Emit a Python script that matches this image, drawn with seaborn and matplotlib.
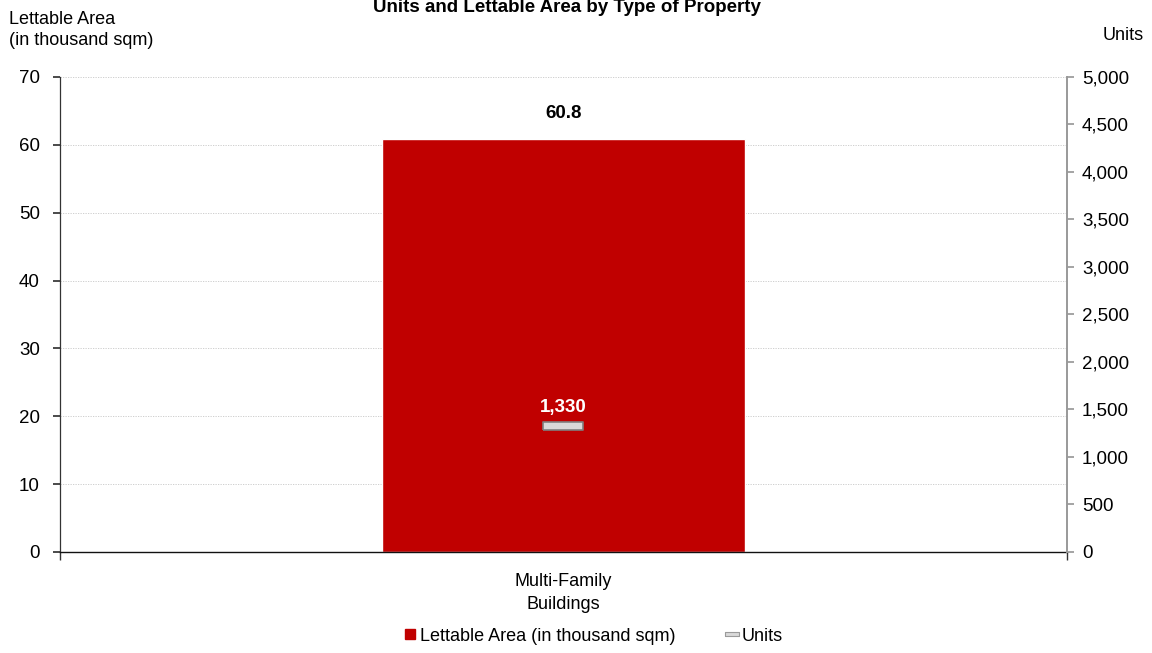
import matplotlib
matplotlib.use("Agg")
import matplotlib.pyplot as plt
from matplotlib.lines import Line2D
import seaborn as sns
import pandas as pd

categories = ["Multi-Family\nBuildings"]
lettable_area = [60.8]
units = [1330]
area_ticks = [0, 10, 20, 30, 40, 50, 60, 70]
unit_ticks = [0, 500, 1000, 1500, 2000, 2500, 3000, 3500, 4000, 4500, 5000]

sns.set_theme(style="white")
plt.rcParams["font.family"] = ["Liberation Sans", "DejaVu Sans"]
plt.rcParams["text.color"] = "black"
plt.rcParams["xtick.color"] = "black"
plt.rcParams["ytick.color"] = "black"

BAR_RED = "#C00000"
FS = 13.5
FS_TXT = 13
df = pd.DataFrame({"category": categories, "area": lettable_area, "units": units})

fig = plt.figure(figsize=(11.52, 6.53), dpi=100)
ax = fig.add_axes([0.052, 0.1547, 0.874, 0.7274])

sns.barplot(data=df, x="category", y="area", color=BAR_RED, saturation=1,
            width=0.36, ax=ax, zorder=2)
ax.set_xlim(-0.5, 0.5)
ax.set_ylim(0, 70)
ax.set_yticks(area_ticks)
ax.yaxis.grid(True, color="#c8c8c8", linestyle=(0, (1.5, 1.5)), linewidth=0.6, zorder=0)
ax.set_axisbelow(True)
ax.set_xlabel("")
ax.set_ylabel("")
ax.tick_params(axis="y", labelsize=FS, length=5, direction="out", left=True,
               color="#333333", pad=9.4, labelcolor="black")
ax.tick_params(axis="x", labelsize=FS_TXT, length=0, pad=15, labelcolor="black")
for lbl in ax.get_xticklabels():
    lbl.set_linespacing(1.5)
ax.set_xticks([-0.5, 0.5], minor=True)
ax.tick_params(axis="x", which="minor", length=6, direction="out", bottom=True,
               color="#333333")
for side in ["top", "right"]:
    ax.spines[side].set_visible(False)
ax.spines["left"].set_color("#333333")
ax.spines["bottom"].set_color("#111111")
ax.spines["left"].set_linewidth(0.9)
ax.spines["bottom"].set_linewidth(1.0)

for xi, v in enumerate(lettable_area):
    ax.text(xi, v + 2.6, f"{v:.1f}", ha="center", va="bottom",
            fontsize=FS, fontweight="bold", color="black")

ax2 = ax.twinx()
ax2.set_ylim(0, 5000)
ax2.set_yticks(unit_ticks)
ax2.set_yticklabels([f"{t:,}" for t in unit_ticks])
ax2.tick_params(axis="y", labelsize=FS, length=5, direction="out", right=True,
                color="#999999", pad=6, labelcolor="black")
for side in ["top", "left", "bottom"]:
    ax2.spines[side].set_visible(False)
ax2.spines["right"].set_color("#999999")
ax2.spines["right"].set_linewidth(1.4)

bar_marker = [(-1, -0.22), (1, -0.22), (1, 0.22), (-1, 0.22), (-1, -0.22)]
ax2.plot(range(len(units)), units, linestyle="none", marker=bar_marker,
         markersize=29, markerfacecolor="#D9D9D9", markeredgecolor="#7f7f7f",
         markeredgewidth=1.2, zorder=3)
for xi, v in enumerate(units):
    ax2.text(xi, v + 100, f"{v:,}", ha="center", va="bottom",
             fontsize=FS, fontweight="bold", color="white")

fig.text(0.008, 0.954, "Lettable Area\n(in thousand sqm)", ha="left", va="center",
         fontsize=FS_TXT, linespacing=1.35)
fig.text(0.993, 0.946, "Units", ha="right", va="center", fontsize=FS_TXT)
fig.text(0.492, 0.988, "Units and Lettable Area by Type of Property", ha="center",
         va="center", fontsize=FS, fontweight="bold")

handles = [
    Line2D([0], [0], marker="s", linestyle="none", markersize=7,
           markerfacecolor=BAR_RED, markeredgecolor=BAR_RED),
    Line2D([0], [0], marker=bar_marker, linestyle="none", markersize=10,
           markerfacecolor="#D9D9D9", markeredgecolor="#9a9a9a", markeredgewidth=0.8),
]
fig.legend(handles, ["Lettable Area (in thousand sqm)", "Units"], loc="center",
           bbox_to_anchor=(0.514, 0.026), ncol=2, frameon=False, fontsize=FS_TXT,
           handletextpad=0.05, columnspacing=2.6, handlelength=1.0)

fig.savefig("out.png", dpi=100)
